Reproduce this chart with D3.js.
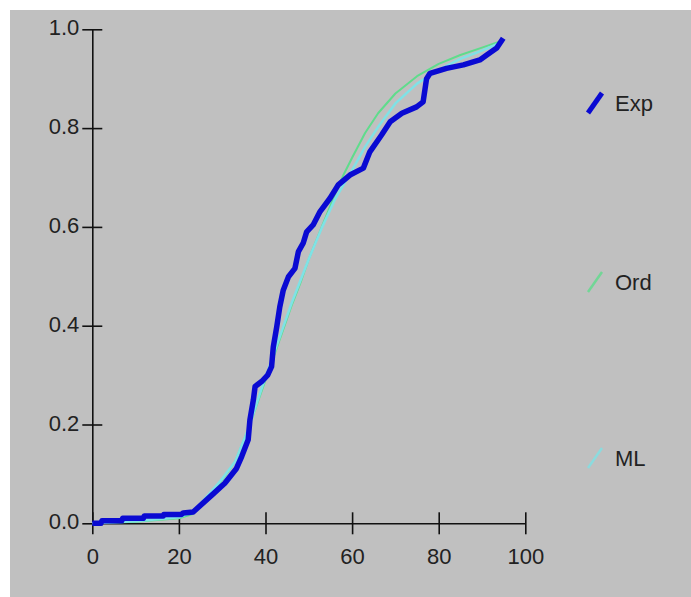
<!DOCTYPE html>
<html>
<head>
<meta charset="utf-8">
<script src="https://cdn.jsdelivr.net/npm/d3@7"></script>
<style>
  body { margin: 0; background: #fff; }
  svg { display: block; }
</style>
</head>
<body>
<script>
// empirical curve
var expX = [0, 2, 2.2, 6.8, 7, 11.8, 12, 16.4, 16.5, 20.6, 21, 23.3, 27.6, 30.6, 33.3, 34.5, 36, 36.4, 37.2, 37.6, 39.1, 40.5, 41.4, 41.8, 42.6, 43.3, 44.1, 45.3, 46.8, 47.6, 48.7, 49.5, 51, 52.6, 54.9, 56.8, 59.5, 62.6, 64.1, 66.8, 68.8, 71.5, 74.9, 76.4, 77.2, 78, 81.8, 85.7, 89.5, 91.1, 93.4, 94.9];
var expY = [0, 0, 0.005, 0.005, 0.01, 0.01, 0.015, 0.015, 0.018, 0.018, 0.021, 0.023, 0.057, 0.081, 0.111, 0.135, 0.169, 0.209, 0.25, 0.277, 0.287, 0.3, 0.317, 0.357, 0.398, 0.438, 0.472, 0.499, 0.516, 0.55, 0.567, 0.59, 0.604, 0.631, 0.658, 0.685, 0.705, 0.719, 0.752, 0.786, 0.813, 0.83, 0.843, 0.853, 0.9, 0.911, 0.921, 0.928, 0.938, 0.948, 0.962, 0.982];

// fitted curves
var fitX = [0, 10, 20, 23, 25, 28, 30, 33, 36, 39, 42, 44, 46, 48, 50, 53, 56, 58, 60, 63, 66, 70, 75, 80, 85, 90, 94];
var ordY = [0, 0.003, 0.01, 0.018, 0.035, 0.065, 0.088, 0.125, 0.19, 0.265, 0.34, 0.39, 0.44, 0.485, 0.535, 0.6, 0.665, 0.705, 0.74, 0.79, 0.83, 0.87, 0.905, 0.93, 0.948, 0.963, 0.975];
var mlY = [0, 0.004, 0.012, 0.022, 0.04, 0.07, 0.09, 0.125, 0.19, 0.27, 0.345, 0.395, 0.445, 0.49, 0.535, 0.598, 0.655, 0.685, 0.715, 0.762, 0.802, 0.85, 0.89, 0.918, 0.94, 0.957, 0.972];

var xTicks = [0, 20, 40, 60, 80, 100];
var yTicks = [0, 0.2, 0.4, 0.6, 0.8, 1.0];
var seriesNames = ["Exp", "Ord", "ML"];
var seriesColors = ["#0a0ad2", "#5fdc8c", "#7fe2e6"];
var seriesWidths = [5.5, 2, 2.5];

var W = 691, H = 597;
var svg = d3.select("body").append("svg").attr("width", W).attr("height", H);

svg.append("rect").attr("x", 10).attr("y", 10).attr("width", W - 10).attr("height", H - 10)
    .attr("fill", "#c0c0c0");

var x = d3.scaleLinear().domain([0, 100]).range([92.3, 525.3]);
var y = d3.scaleLinear().domain([0, 1]).range([523.3, 29.3]);

var fontFam = "'Liberation Sans', Arial, sans-serif";

var gx = svg.append("g").attr("transform", "translate(0," + y(0) + ")")
    .call(d3.axisBottom(x).tickValues(xTicks).tickSizeInner(11).tickSizeOuter(0).tickPadding(14)
        .tickFormat(d3.format("d")));
gx.selectAll(".tick line").attr("y1", -11);
gx.selectAll("text").attr("font-size", 22).attr("font-family", fontFam).attr("fill", "#222");

var gy = svg.append("g").attr("transform", "translate(" + x(0) + ",0)")
    .call(d3.axisLeft(y).tickValues(yTicks).tickSizeInner(10).tickSizeOuter(0).tickPadding(3)
        .tickFormat(d3.format(".1f")));
gy.selectAll(".tick line").attr("x1", 10);
gy.selectAll("text").attr("font-size", 22).attr("font-family", fontFam).attr("fill", "#222")
    .attr("dy", "0.25em");

[gx, gy].forEach(function (g) {
    g.selectAll("path, line").attr("stroke", "#111").attr("stroke-width", 1.6);
});

var line = d3.line().x(function (d) { return x(d[0]); }).y(function (d) { return y(d[1]); });

var curves = [
    d3.zip(expX, expY),
    d3.zip(fitX, ordY),
    d3.zip(fitX, mlY)
];

// Ord first, ML over it, Exp on top
[1, 2, 0].forEach(function (i) {
    svg.append("path").datum(curves[i])
        .attr("d", line)
        .attr("fill", "none")
        .attr("stroke", seriesColors[i])
        .attr("stroke-width", seriesWidths[i])
        .attr("stroke-linejoin", "round");
});

// legend
var legY = [103, 282, 458];
seriesNames.forEach(function (name, i) {
    var g = svg.append("g").attr("transform", "translate(0," + legY[i] + ")");
    g.append("line")
        .attr("x1", 588).attr("y1", 10).attr("x2", 602).attr("y2", -10)
        .attr("stroke", seriesColors[i])
        .attr("stroke-width", i == 0 ? 5 : 2.5)
        .attr("opacity", i == 0 ? 1 : 0.8);
    g.append("text")
        .attr("x", 615).attr("y", 0).attr("dy", "0.35em")
        .attr("font-size", 22).attr("font-family", fontFam).attr("fill", "#222")
        .text(name);
});
</script>
</body>
</html>
